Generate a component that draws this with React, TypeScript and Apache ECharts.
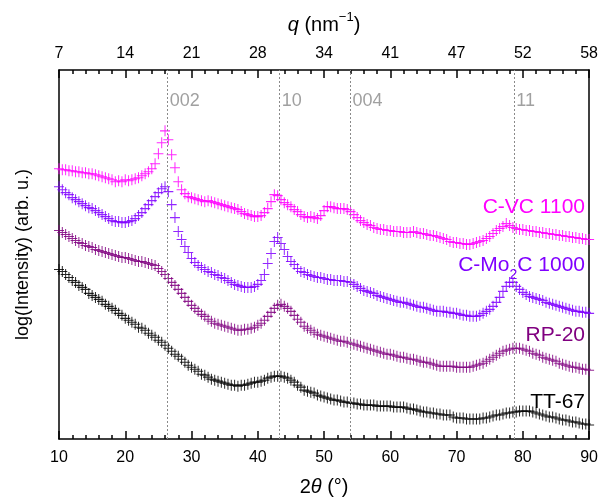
import React, { useEffect, useRef } from "react";
import * as echarts from "echarts";

// 2θ grid (degrees), 0.5° steps from 10 to 90
const twoTheta: number[] = Array.from({ length: 161 }, (_, i) => 10 + i * 0.5);

// log(Intensity), arbitrary offset units
const tt67 = [
  170, 168, 165, 162, 159, 157, 154, 152, 150, 146,
  144, 142, 140, 138, 135, 133, 131, 129, 126, 124,
  121, 119, 117, 115, 112, 111, 109, 106, 104, 102,
  99, 97, 94, 91, 88, 85, 83, 80, 77, 74,
  72, 70, 68, 65, 64, 62, 60, 59, 58, 57,
  56, 55, 54, 54, 53, 54, 54, 55, 56, 57,
  57, 58, 59, 61, 62, 63, 63, 63, 62, 61,
  59, 57, 54, 52, 49, 48, 47, 46, 44, 43,
  42, 41, 40, 39, 39, 38, 37, 37, 36, 36,
  35, 35, 34, 34, 34, 34, 33, 33, 33, 33,
  33, 32, 32, 32, 32, 31, 30, 30, 29, 28,
  27, 27, 26, 26, 25, 25, 24, 24, 24, 22,
  21, 21, 21, 20, 20, 20, 20, 20, 21, 21,
  22, 23, 24, 24, 25, 26, 26, 27, 27, 28,
  28, 28, 28, 27, 26, 25, 24, 23, 22, 22,
  21, 20, 19, 19, 18, 17, 17, 16, 15, 15,
  14,
];

const rp20 = [
  209, 207, 205, 203, 201, 199, 197, 196, 194, 193,
  192, 190, 189, 188, 187, 186, 185, 184, 183, 182,
  182, 181, 180, 179, 178, 178, 177, 176, 175, 174,
  171, 168, 165, 161, 157, 154, 150, 146, 142, 138,
  134, 131, 128, 125, 123, 120, 118, 116, 115, 114,
  113, 112, 111, 110, 109, 109, 110, 110, 111, 112,
  114, 116, 119, 123, 127, 131, 134, 135, 133, 131,
  128, 124, 120, 117, 113, 111, 109, 107, 105, 104,
  103, 102, 101, 100, 99, 98, 98, 97, 96, 95,
  94, 93, 92, 91, 90, 89, 88, 87, 86, 85,
  85, 84, 83, 82, 82, 81, 80, 80, 79, 78,
  77, 77, 76, 75, 74, 73, 73, 73, 73, 73,
  72, 72, 72, 72, 72, 73, 74, 75, 76, 78,
  80, 82, 84, 86, 88, 89, 90, 91, 91, 91,
  90, 89, 88, 86, 85, 84, 82, 81, 80, 79,
  78, 76, 75, 74, 73, 72, 72, 71, 70, 70,
  69,
];

const cmo2c1000 = [
  253, 250, 247, 245, 242, 240, 238, 236, 234, 232,
  231, 229, 227, 225, 223, 221, 219, 218, 218, 217,
  217, 218, 219, 221, 224, 227, 231, 235, 239, 243,
  247, 251, 253, 248, 235, 222, 208, 200, 193, 187,
  181, 177, 174, 172, 170, 168, 167, 165, 164, 162,
  161, 159, 157, 155, 154, 153, 152, 152, 152, 153,
  155, 159, 165, 176, 186, 198, 202, 196, 190, 183,
  178, 175, 171, 168, 167, 165, 164, 163, 162, 162,
  161, 160, 160, 159, 159, 159, 158, 158, 157, 155,
  153, 151, 149, 148, 147, 146, 144, 143, 142, 141,
  140, 139, 138, 137, 137, 136, 135, 134, 133, 132,
  132, 131, 130, 129, 128, 128, 128, 127, 127, 126,
  126, 125, 124, 124, 123, 123, 123, 124, 126, 128,
  130, 133, 137, 142, 148, 153, 157, 157, 153, 150,
  147, 145, 143, 142, 141, 140, 139, 137, 136, 135,
  134, 133, 132, 131, 130, 129, 128, 128, 127, 127,
  126,
];

const cvc1100 = [
  271, 270, 270, 269, 269, 268, 268, 267, 267, 266,
  266, 265, 264, 263, 262, 261, 260, 258, 259, 258,
  260, 259, 260, 261, 262, 264, 266, 268, 271, 276,
  286, 297, 309, 300, 285, 272, 258, 250, 246, 243,
  242, 241, 240, 239, 238, 239, 238, 237, 236, 235,
  234, 233, 232, 231, 230, 228, 226, 225, 224, 223,
  223, 224, 227, 231, 238, 245, 244, 240, 237, 235,
  233, 230, 228, 225, 223, 222, 223, 222, 221, 224,
  229, 233, 233, 232, 231, 231, 231, 230, 228, 225,
  222, 219, 217, 215, 214, 212, 211, 210, 210, 209,
  209, 208, 208, 208, 207, 207, 207, 208, 207, 206,
  206, 205, 204, 204, 203, 202, 201, 200, 198, 197,
  197, 196, 196, 195, 195, 196, 197, 198, 199, 201,
  203, 206, 209, 211, 213, 216, 214, 212, 211, 210,
  210, 209, 209, 208, 208, 207, 207, 206, 206, 205,
  205, 204, 204, 203, 203, 202, 202, 201, 201, 200,
  200,
];

const qTickLabels = ["7", "14", "21", "28", "34", "41", "47", "52", "58"];
const peakPositions = [26.4, 43.3, 54.0, 78.7];
const peakLabels = ["002", "10", "004", "11"];
const PEAK_LABEL_LEVEL = 340;

const FONT = "'Liberation Sans', Arial, sans-serif";
const CROSS = "path://M0,4.5L10,4.5L10,5.5L0,5.5ZM4.5,0L5.5,0L5.5,10L4.5,10Z";

function pairs(ys: number[]) {
  return ys.map((y, i) => [twoTheta[i], y]);
}

function crossSeries(name: string, ys: number[], color: string) {
  return {
    type: "scatter",
    name,
    data: pairs(ys),
    symbol: CROSS,
    symbolSize: [10, 11],
    itemStyle: { color, opacity: 0.85 },
    silent: true,
    z: 3,
  };
}

export default function App() {
  const ref = useRef<HTMLDivElement>(null);
  useEffect(() => {
    const chart = echarts.init(ref.current!, null, { renderer: "svg" });
    const axisCommon = {
      type: "value",
      min: 10,
      max: 90,
      interval: 10,
      axisLine: { show: true, onZero: false, lineStyle: { color: "#000", width: 1.5 } },
      axisTick: { show: true, inside: true, length: 8, lineStyle: { color: "#000", width: 1.5 } },
      minorTick: { show: true, splitNumber: 5, length: 4, lineStyle: { color: "#000", width: 1.5 } },
      splitLine: { show: false },
      minorSplitLine: { show: false },
    };
    const option: any = {
      animation: false,
      grid: { left: 59, right: 10, top: 70, bottom: 61 },
      xAxis: [
        {
          ...axisCommon,
          position: "bottom",
          axisLabel: { fontSize: 16, color: "#000", margin: 9, fontFamily: FONT },
          name: "2{i|θ} (°)",
          nameLocation: "middle",
          nameGap: 37,
          nameTextStyle: {
            fontSize: 20,
            color: "#000",
            fontFamily: FONT,
            rich: { i: { fontStyle: "italic", fontSize: 20, color: "#000", fontFamily: FONT } },
          },
        },
        {
          ...axisCommon,
          position: "top",
          axisLabel: {
            fontSize: 16,
            color: "#000",
            margin: 10,
            fontFamily: FONT,
            formatter: (v: number) => qTickLabels[Math.round((v - 10) / 10)] ?? "",
          },
          name: "{i|q} {b|(nm}{s|−1}{b|)}",
          nameLocation: "middle",
          nameGap: 36,
          nameTextStyle: {
            fontSize: 20,
            color: "#000",
            fontFamily: FONT,
            rich: {
              i: { fontStyle: "italic", fontSize: 20, color: "#000", fontFamily: FONT, lineHeight: 24, verticalAlign: "bottom" },
              b: { fontSize: 20, color: "#000", fontFamily: FONT, lineHeight: 24, verticalAlign: "bottom" },
              s: { fontSize: 13, color: "#000", fontFamily: FONT, lineHeight: 14, verticalAlign: "top" },
            },
          },
        },
      ],
      yAxis: [
        {
          type: "value",
          min: 0,
          max: 370,
          position: "left",
          axisLine: { show: true, lineStyle: { color: "#000", width: 1.5 } },
          axisTick: { show: false },
          axisLabel: { show: false },
          splitLine: { show: false },
          name: "log(Intensity) (arb. u.)",
          nameLocation: "middle",
          nameGap: 28,
          nameTextStyle: { fontSize: 18, color: "#000", fontFamily: FONT },
        },
        {
          type: "value",
          min: 0,
          max: 370,
          position: "right",
          axisLine: { show: true, lineStyle: { color: "#000", width: 1.5 } },
          axisTick: { show: false },
          axisLabel: { show: false },
          splitLine: { show: false },
        },
      ],
      series: [
        {
          type: "scatter",
          name: "peaks",
          symbolSize: 0,
          silent: true,
          data: peakPositions.map((p, i) => ({ value: [p, PEAK_LABEL_LEVEL], name: peakLabels[i] })),
          label: {
            show: true,
            position: "right",
            distance: 2,
            formatter: "{b}",
            color: "#888",
            fontSize: 18,
            fontFamily: FONT,
          },
          markLine: {
            silent: true,
            symbol: ["none", "none"],
            label: { show: false },
            lineStyle: { color: "#8a8a8a", width: 1, type: [2, 2] },
            data: peakPositions.map((p) => ({ xAxis: p })),
          },
          z: 1,
        },
        crossSeries("TT-67", tt67, "#000000"),
        crossSeries("RP-20", rp20, "#800080"),
        crossSeries("C-Mo2C 1000", cmo2c1000, "#8000FF"),
        crossSeries("C-VC 1100", cvc1100, "#FF00FF"),
      ],
      graphic: [
        {
          type: "text",
          x: 585,
          y: 205,
          style: { text: "C-VC 1100", fill: "#FF00FF", fontSize: 21, fontFamily: FONT, align: "right", verticalAlign: "middle" },
          z: 10,
        },
        {
          type: "text",
          x: 585,
          y: 265,
          style: {
            text: "{a|C-Mo}{s|2}{a|C 1000}",
            align: "right",
            verticalAlign: "middle",
            rich: {
              a: { fill: "#8000FF", fontSize: 21, fontFamily: FONT, lineHeight: 24, verticalAlign: "top" },
              s: { fill: "#8000FF", fontSize: 14, fontFamily: FONT, lineHeight: 16, verticalAlign: "top", padding: [14, 0, 0, 0] },
            },
          },
          z: 10,
        },
        {
          type: "text",
          x: 585,
          y: 333,
          style: { text: "RP-20", fill: "#800080", fontSize: 21, fontFamily: FONT, align: "right", verticalAlign: "middle" },
          z: 10,
        },
        {
          type: "text",
          x: 585,
          y: 400,
          style: { text: "TT-67", fill: "#000", fontSize: 21, fontFamily: FONT, align: "right", verticalAlign: "middle" },
          z: 10,
        },
      ],
    };
    chart.setOption(option);
    return () => chart.dispose();
  }, []);
  return <div ref={ref} style={{ position: "fixed", left: 0, top: 0, width: 601, height: 501 }} />;
}
